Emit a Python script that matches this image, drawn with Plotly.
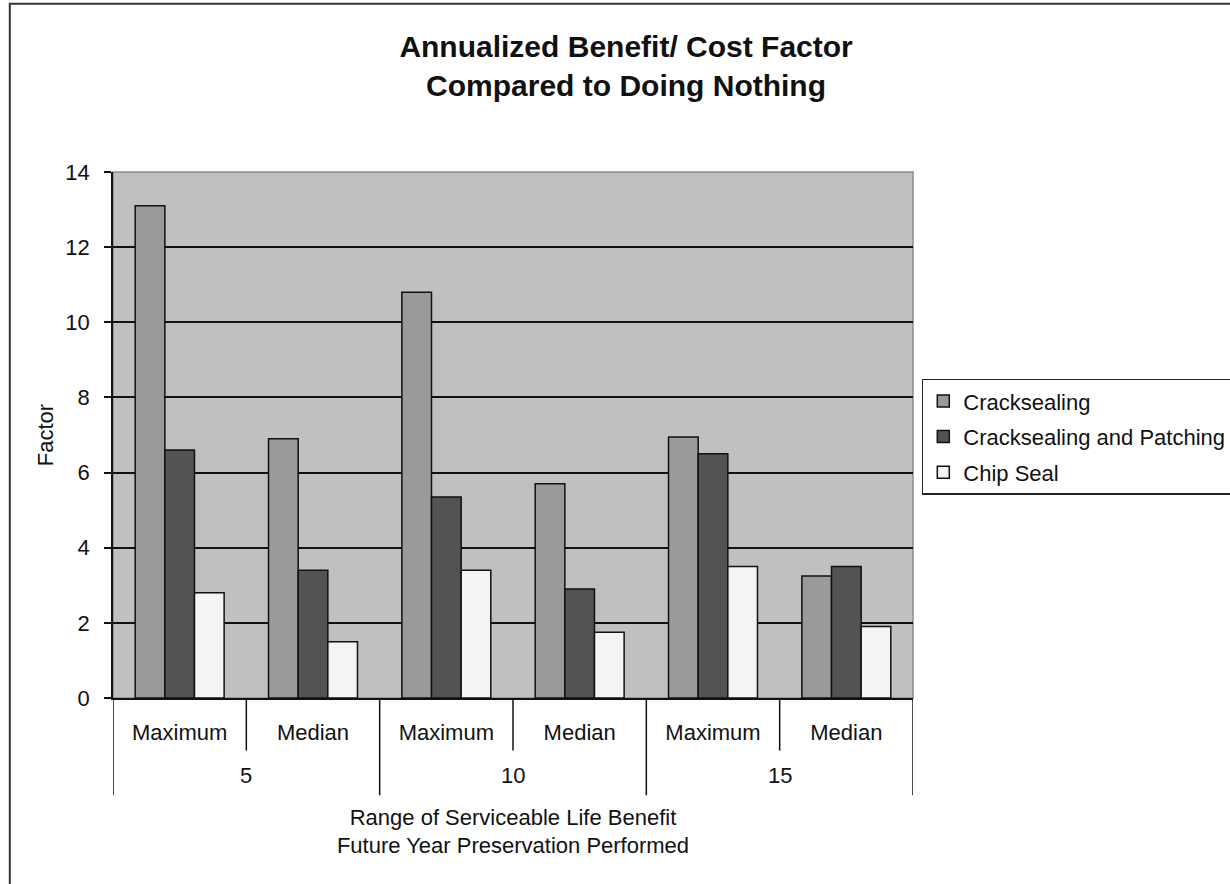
import plotly.graph_objects as go

# Service-life ranges (outer level) and statistics (inner level)
life_ranges = ["5", "10", "15"]
statistics = ["Maximum", "Median", "Maximum", "Median", "Maximum", "Median"]

crack_sealing = [13.1, 6.9, 10.8, 5.7, 6.95, 3.25]
crack_sealing_patching = [6.6, 3.4, 5.35, 2.9, 6.5, 3.5]
chip_seal = [2.8, 1.5, 3.4, 1.75, 3.5, 1.9]

series_names = ["Cracksealing", "Cracksealing and Patching", "Chip Seal"]
series_colors = ["#9a9a9a", "#535353", "#f4f4f4"]

FONT = "Liberation Sans, Arial, sans-serif"
INK = "#111111"

positions = list(range(len(statistics)))
per_group = len(statistics) // len(life_ranges)

fig = go.Figure()
for name, vals, color in zip(series_names,
                             [crack_sealing, crack_sealing_patching, chip_seal],
                             series_colors):
    fig.add_trace(go.Bar(
        x=positions,
        y=vals,
        name=name,
        legendgroup=name,
        marker=dict(color=color, line=dict(color=INK, width=1.5)),
    ))

# Separators between statistics (short) and between life ranges (long)
for i in range(len(statistics) + 1):
    b = i - 0.5
    long_div = (i % per_group == 0)
    fig.add_shape(type="line", xref="x", yref="paper",
                  x0=b, x1=b, y0=0, y1=-0.185 if long_div else -0.1,
                  line=dict(color=INK, width=1.5))

# Life-range labels centred under each group
for g, label in enumerate(life_ranges):
    centre = g * per_group + (per_group - 1) / 2
    fig.add_annotation(x=centre, xref="x", y=-0.147, yref="paper",
                       text=label, showarrow=False,
                       font=dict(size=22, color=INK, family=FONT),
                       xanchor="center", yanchor="middle")

# Plot-area frame (grey on top and right)
fig.add_shape(type="rect", xref="paper", yref="paper", x0=0, x1=1, y0=0, y1=1,
              line=dict(color="#8a8a8a", width=1.5), layer="below")

# Outer chart frame
fig.add_shape(type="rect", xref="paper", yref="paper",
              x0=-0.129, x1=1.42, y0=-0.37, y1=1.32,
              line=dict(color="#333333", width=2))

fig.update_layout(
    width=1230, height=884,
    margin=dict(l=113, r=317, t=172, b=186, autoexpand=False),
    paper_bgcolor="white",
    plot_bgcolor="#c0c0c0",
    font=dict(family=FONT, size=22, color=INK),
    bargap=0.333, bargroupgap=0,
    title=dict(
        text="<b>Annualized Benefit/ Cost Factor<br>Compared to Doing Nothing</b>",
        x=0.509, xanchor="center", y=0.9355, yanchor="middle",
        font=dict(size=30, color=INK, family=FONT),
    ),
    legend=dict(
        x=1.011, xanchor="left", y=0.607, yanchor="top",
        bgcolor="white", bordercolor="#222222", borderwidth=1.5,
        font=dict(size=22), itemwidth=30, tracegroupgap=4,
    ),
    showlegend=True,
)

fig.update_yaxes(
    range=[0, 14], dtick=2, tick0=0,
    showgrid=True, gridcolor=INK, gridwidth=1.5,
    zeroline=False,
    showline=True, linecolor=INK, linewidth=1.5,
    ticks="outside", ticklen=7, tickcolor=INK, tickwidth=1.5,
    ticklabelstandoff=10,
    title=dict(text="Factor", font=dict(size=22), standoff=6),
)

fig.update_xaxes(
    range=[-0.5, len(statistics) - 0.5],
    tickmode="array", tickvals=positions, ticktext=statistics,
    showgrid=False, zeroline=False,
    showline=True, linecolor=INK, linewidth=1.5,
    ticks="", ticklabelstandoff=14,
    title=dict(text="Range of Serviceable Life Benefit<br>Future Year Preservation Performed",
               font=dict(size=22), standoff=65),
)

fig.write_html("out.html")
